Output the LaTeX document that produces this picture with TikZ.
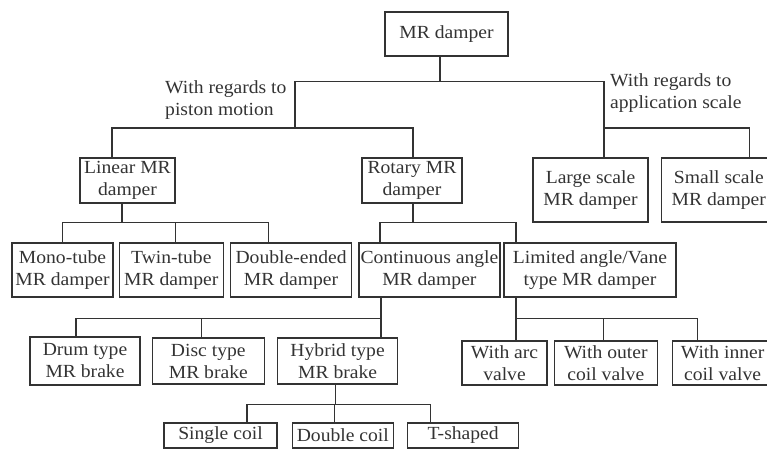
\documentclass[tikz,border=0pt]{standalone}
\usepackage{fontspec}
\setmainfont{Liberation Serif}[FakeStretch=1.06]
\usetikzlibrary{positioning}
\definecolor{linec}{HTML}{333333}

\begin{document}
\begin{tikzpicture}[x=1pt, y=-1pt,
  box/.style={draw=linec, line width=1.3pt, align=center, inner sep=0pt,
    text=linec, font=\fontsize{18.5}{22}\selectfont},
  con/.style={draw=linec, line width=1.2pt},
  lbl/.style={align=left, inner sep=0pt, text=linec, font=\fontsize{18.5}{22}\selectfont}
]
  \useasboundingbox (0,0) rectangle (767,450);

  % top levels
  \node[box, minimum width=123pt, minimum height=44pt] (root) at (446.5,34) {MR damper};
  \node[box, minimum width=95pt, minimum height=45pt] (lin) at (127.5,180.5) {Linear MR\\damper};
  \node[box, minimum width=100pt, minimum height=45pt] (rot) at (412,180.5) {Rotary MR\\damper};
  \node[box, minimum width=115pt, minimum height=64pt] (large) at (590.5,190) {Large scale\\MR damper};
  \node[box, minimum width=115pt, minimum height=64pt, right=12pt of large] (small) {Small scale\\MR damper};

  \coordinate (pm) at (295,128);
  \coordinate (as) at (604,128);
  \node[lbl, anchor=west] (pmlbl) at (165,100) {With regards to\\piston motion};
  \node[lbl, anchor=west] (aslbl) at (610,93) {With regards to\\application scale};

  % second row
  \node[box, minimum width=101pt, minimum height=54pt] (mono) at (62.5,270) {Mono-tube\\MR damper};
  \node[box, minimum width=104pt, minimum height=54pt, right=5pt of mono] (twin) {Twin-tube\\MR damper};
  \node[box, minimum width=121pt, minimum height=54pt, right=6pt of twin] (dbl) {Double-ended\\MR damper};
  \node[box, minimum width=141pt, minimum height=54pt, right=6pt of dbl] (cont) {Continuous angle\\MR damper};
  \node[box, minimum width=172pt, minimum height=54pt] (lim) at (590,270) {Limited angle/Vane\\type MR damper};

  % third row
  \node[box, minimum width=110pt, minimum height=48pt] (drum) at (85,361) {Drum type\\MR brake};
  \node[box, minimum width=112pt, minimum height=46pt, right=11pt of drum] (disc) {Disc type\\MR brake};
  \node[box, minimum width=120pt, minimum height=46pt, right=12pt of disc] (hyb) {Hybrid type\\MR brake};
  \node[box, minimum width=85pt, minimum height=44pt] (arc) at (504.5,363) {With arc\\valve};
  \node[box, minimum width=103pt, minimum height=44pt, right=6pt of arc] (outer) {With outer\\coil valve};
  \node[box, minimum width=100pt, minimum height=44pt, right=14pt of outer] (inner) {With inner\\coil valve};

  % bottom row
  \node[box, minimum width=113pt, minimum height=25pt] (single) at (220.5,435.5) {Single coil};
  \node[box, minimum width=101pt, minimum height=25pt, right=14pt of single] (double) {Double coil};
  \node[box, minimum width=111pt, minimum height=25pt, right=13pt of double] (tsh) {T-shaped};

  % connectors
  \draw[con] ([xshift=-6.5pt]root.south) -- ++(0,25) -| (pm);
  \draw[con] ([xshift=-6.5pt]root.south) -- ++(0,25) -| ([xshift=13.5pt]large.north);
  \draw[con] (pm) -| ([xshift=-15.5pt]lin.north);
  \draw[con] (pm) -| ([xshift=1pt]rot.north);
  \draw[con] (as) -| ([xshift=30.5pt]small.north);

  \draw[con] ([xshift=-5.5pt]lin.south) -- ++(0,19) -| (mono.north);
  \draw[con] ([xshift=-5.5pt]lin.south) -- ++(0,19) -| ([xshift=4pt]twin.north);
  \draw[con] ([xshift=-5.5pt]lin.south) -- ++(0,19) -| ([xshift=-22.5pt]dbl.north);

  \draw[con] ([xshift=1pt]rot.south) -- ++(0,19) -| ([xshift=-49.5pt]cont.north);
  \draw[con] ([xshift=1pt]rot.south) -- ++(0,19) -| ([xshift=-74pt]lim.north);

  \draw[con] ([xshift=-48.5pt]cont.south) -- ++(0,21) -| ([xshift=-9pt]drum.north);
  \draw[con] ([xshift=-48.5pt]cont.south) -- ++(0,21) -| ([xshift=-7pt]disc.north);
  \draw[con] ([xshift=-48.5pt]cont.south) -- ([xshift=-48.5pt]cont.south |- hyb.north);

  \draw[con] ([xshift=-2pt]hyb.south) -- ++(0,20) -| ([xshift=26.5pt]single.north);
  \draw[con] ([xshift=-2pt]hyb.south) -- ++(0,20) -| ([xshift=-8.5pt]double.north);
  \draw[con] ([xshift=-2pt]hyb.south) -- ++(0,20) -| ([xshift=-32.5pt]tsh.north);

  \draw[con] ([xshift=-74pt]lim.south) -- ([xshift=-74pt]lim.south |- arc.north);
  \draw[con] ([xshift=-74pt]lim.south) -- ++(0,21) -| ([xshift=-2.5pt]outer.north);
  \draw[con] ([xshift=-74pt]lim.south) -- ++(0,21) -| ([xshift=-25pt]inner.north);
\end{tikzpicture}
\end{document}
